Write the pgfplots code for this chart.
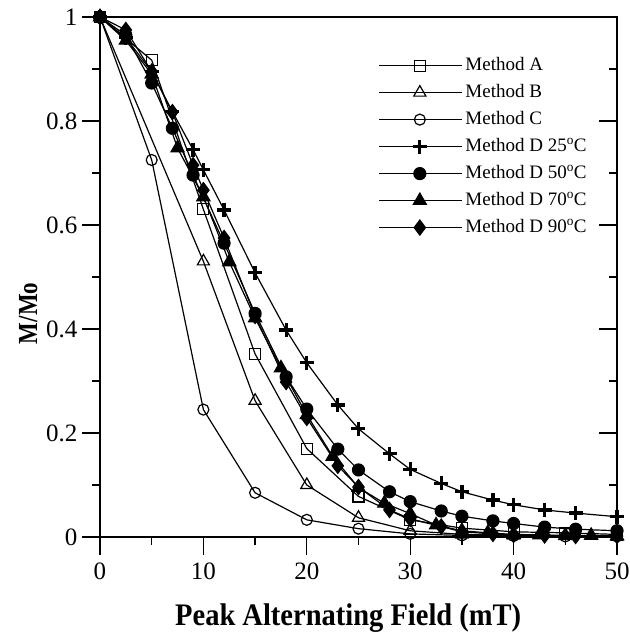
\documentclass[border=0pt]{standalone}
\usepackage{fontspec}
\setmainfont{Liberation Serif}
\usepackage{graphicx}
\usepackage{pgfplots}
\pgfplotsset{compat=1.18}
\usetikzlibrary{calc}

\pgfplotsset{
  every axis plot/.append style={line width=1.2pt, black},
  legline/.style={legend image code/.code={
      \draw[mark repeat=2,mark phase=2] plot coordinates {(0pt,0pt) (41pt,0pt) (83pt,0pt)};}},
}

\begin{document}
\begin{tikzpicture}
\begin{axis}[name=ax,
    width=517pt, height=520pt, scale only axis,
    xmin=0, xmax=50, ymin=0, ymax=1,
    xtick={0,10,...,50}, ytick={0,0.2,...,1},
    minor x tick num=1, minor y tick num=1,
    xtick pos=bottom, ytick pos=left,
    tick align=outside,
    major tick length=18pt, minor tick length=8pt,
    every tick/.style={black, line width=1.3pt},
    axis line style={line width=1.6pt},
    /pgf/number format/assume math mode=true,
    tick label style={font=\fontsize{25}{25}\selectfont},
    xticklabel style={yshift=-4pt},
    yticklabel style={xshift=-1pt},
    xlabel={\scalebox{1}[1.1]{\fontsize{28.5}{30}\selectfont\bfseries Peak Alternating Field (mT)}},
    xlabel style={at={(axis description cs:0.48,0)}, anchor=center, yshift=-81pt},
    ylabel={\scalebox{1}[1.2]{\fontsize{23}{25}\selectfont\bfseries M/Mo}},
    ylabel style={at={(axis description cs:-0.139,0.43)}, anchor=center},
    legline,
    legend style={at={(rel axis cs:0.532,0.929)}, anchor=north west, draw=none, fill=none,
      font=\fontsize{19}{19}\selectfont,
      nodes={inner sep=1pt, text height=13pt, text depth=4pt},
      row sep=8pt, column sep=2pt},
    legend cell align=left,
  ]
  \addplot[mark=square, mark size=5.5pt, mark options={fill=white, line width=1.2pt}] coordinates {
    (0,1)(5,0.917)(10,0.63)(15,0.352)(20,0.17)(25,0.078)(30,0.033)(35,0.017)(40,0.01)(45,0.008)(50,0.005)};
  \addlegendentry{Method A}
  \addplot[mark=triangle, mark size=7pt, mark options={fill=white, line width=1.2pt}] coordinates {
    (0,1)(10,0.53)(15,0.262)(20,0.10)(25,0.037)(30,0.012)(35,0.005)(40,0.003)(45,0.002)(50,0.001)};
  \addlegendentry{Method B}
  \addplot[mark=o, mark size=5.5pt, mark options={fill=white, line width=1.2pt}] coordinates {
    (0,1)(5,0.725)(10,0.245)(15,0.085)(20,0.033)(25,0.016)(30,0.006)(35,0.003)(40,0.002)(45,0.001)(50,0.001)};
  \addlegendentry{Method C}
  \addplot[mark=+, mark size=7pt, mark options={line width=3.2pt}] coordinates {
    (0,1)(2.5,0.96)(5,0.895)(7,0.818)(9,0.745)(10,0.706)(12,0.629)(15,0.508)(18,0.398)(20,0.335)
    (23,0.254)(25,0.208)(28,0.16)(30,0.13)(33,0.103)(35,0.087)(38,0.071)(40,0.062)(43,0.052)(46,0.046)(50,0.039)};
  \addlegendentry{Method D 25\textsuperscript{o}C}
  \addplot[mark=*, mark size=6pt] coordinates {
    (0,1)(2.5,0.965)(5,0.873)(7,0.786)(9,0.696)(12,0.565)(15,0.43)(18,0.308)(20,0.246)(23,0.169)
    (25,0.129)(28,0.087)(30,0.068)(33,0.05)(35,0.04)(38,0.031)(40,0.026)(43,0.019)(46,0.015)(50,0.012)};
  \addlegendentry{Method D 50\textsuperscript{o}C}
  \addplot[mark=triangle*, mark size=7.5pt] coordinates {
    (0,1)(2.5,0.955)(5,0.89)(7.5,0.748)(10,0.654)(12.5,0.529)(15,0.421)(17.5,0.325)(20,0.235)(22.5,0.155)
    (25,0.095)(27.5,0.065)(30,0.045)(32.5,0.023)(35,0.012)(37.5,0.008)(40,0.005)(42.5,0.004)(45,0.003)(47.5,0.003)(50,0.002)};
  \addlegendentry{Method D 70\textsuperscript{o}C}
  \addplot[mark=diamond*, mark size=7.5pt] coordinates {
    (0,1)(2.5,0.975)(5,0.895)(7,0.817)(9,0.715)(10,0.667)(12,0.575)(15,0.425)(18,0.298)(20,0.229)
    (23,0.137)(25,0.096)(28,0.052)(30,0.035)(33,0.02)(35,0.01)(38,0.006)(40,0.004)(43,0.003)(46,0.002)(50,0.002)};
  \addlegendentry{Method D 90\textsuperscript{o}C}
\end{axis}
\begin{axis}[
    width=517pt, height=520pt, scale only axis,
    xmin=0, xmax=50, ymin=0, ymax=1,
    xtick=\empty, ytick={0,0.2,...,1}, minor y tick num=1,
    yticklabels={}, ytick pos=right, tick align=inside,
    major tick length=18pt, minor tick length=8pt,
    every tick/.style={black, line width=1.3pt},
    axis line style={line width=1.6pt},
  ]
\end{axis}
\pgfresetboundingbox
\path ($(ax.south west)+(-100pt,-98pt)$) rectangle ($(ax.north east)+(13pt,17pt)$);
\end{tikzpicture}
\end{document}
